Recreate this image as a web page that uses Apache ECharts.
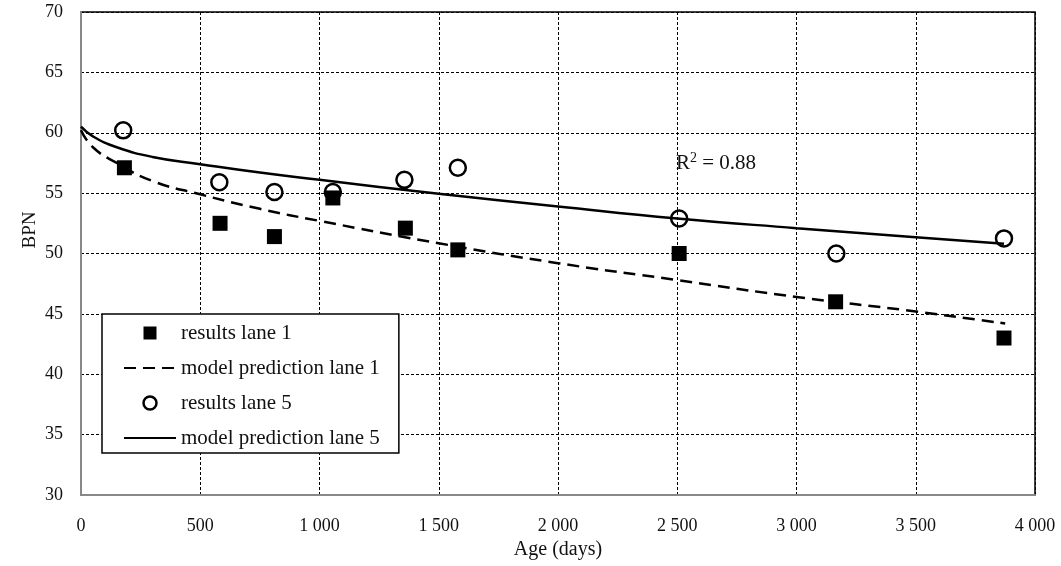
<!DOCTYPE html>
<html>
<head>
<meta charset="utf-8">
<script src="https://cdn.jsdelivr.net/npm/echarts@6/dist/echarts.min.js"></script>
<style>
  html, body { margin: 0; padding: 0; background: #fff; }
  #chart { width: 1061px; height: 566px; }
</style>
</head>
<body>
<div id="chart"></div>
<script>
// measured points, [age (days), BPN]
const resultsLane1 = [
  [182, 57.1], [583, 52.5], [811, 51.4], [1056, 54.6], [1360, 52.1],
  [1580, 50.3], [2508, 50.0], [3164, 46.0], [3870, 43.0]
]
const resultsLane5 = [
  [177, 60.2], [580, 55.9], [811, 55.1], [1056, 55.1], [1356, 56.1],
  [1580, 57.1], [2508, 52.9], [3167, 50.0], [3870, 51.25]
]
// model curves
const modelLane1 = [
  [0, 60.2], [50, 58.8], [150, 57.5], [300, 56.0], [500, 54.9], [750, 53.7],
  [1000, 52.7], [1500, 50.85], [2000, 49.2], [2500, 47.8], [3000, 46.4],
  [3500, 45.2], [3875, 44.2]
]
const modelLane5 = [
  [0, 60.5], [50, 59.7], [150, 58.8], [300, 58.0], [500, 57.4], [750, 56.7],
  [1000, 56.1], [1500, 54.95], [2000, 53.9], [2500, 52.9], [3000, 52.1],
  [3500, 51.35], [3870, 50.8]
]
const seriesNames = ['results lane 1', 'model prediction lane 1', 'results lane 5', 'model prediction lane 5']

const font = 'Liberation Serif, Times New Roman, serif'
const chart = echarts.init(document.getElementById('chart'))

chart.setOption({
  animation: false,
  textStyle: { fontFamily: font, color: '#111' },
  grid: {
    left: 81,
    top: 12,
    right: 26,
    bottom: 71,
    show: true,
    borderColor: '#000',
    borderWidth: 1.5
  },
  xAxis: {
    type: 'value',
    min: 0,
    max: 4000,
    interval: 500,
    name: 'Age (days)',
    nameLocation: 'middle',
    nameGap: 45,
    nameTextStyle: { fontFamily: font, fontSize: 20, color: '#111' },
    axisLine: { show: true, lineStyle: { color: '#888', width: 2 } },
    axisTick: { show: false },
    axisLabel: {
      margin: 22,
      fontSize: 18,
      fontFamily: font,
      color: '#111',
      formatter: v => String(v).replace(/\B(?=(\d{3})+(?!\d))/g, ' ')
    },
    splitLine: { show: true, lineStyle: { color: '#000', type: [3, 2], width: 1 } }
  },
  yAxis: {
    type: 'value',
    min: 30,
    max: 70,
    interval: 5,
    axisLine: { show: true, lineStyle: { color: '#888', width: 2 } },
    axisTick: { show: false },
    axisLabel: { margin: 18, fontSize: 18, fontFamily: font, color: '#111' },
    splitLine: { show: true, lineStyle: { color: '#000', type: [3, 2], width: 1 } }
  },
  legend: {
    orient: 'vertical',
    left: 102,
    top: 314,
    padding: [8, 19, 4, 21],
    itemGap: 13,
    itemWidth: 52,
    itemHeight: 13,
    backgroundColor: '#fff',
    borderColor: '#000',
    borderWidth: 1.5,
    textStyle: { fontFamily: font, fontSize: 21, color: '#111', lineHeight: 22 },
    data: [
      { name: seriesNames[0], icon: 'path://M0,0H10V10H0Z', itemStyle: { opacity: 1 } },
      { name: seriesNames[1], itemStyle: { opacity: 0 } },
      { name: seriesNames[2], itemStyle: { borderWidth: 2.5, opacity: 1 } },
      { name: seriesNames[3], itemStyle: { opacity: 0 } }
    ]
  },
  graphic: [
    {
      type: 'text',
      x: 30,
      y: 230,
      rotation: Math.PI / 2,
      style: {
        text: 'BPN',
        fontFamily: font,
        fontSize: 19,
        fill: '#111',
        textAlign: 'center',
        textVerticalAlign: 'middle'
      }
    },
    {
      type: 'text',
      x: 676,
      y: 163,
      style: {
        text: '{a|R}{b|2}{a| = 0.88}',
        fill: '#111',
        textAlign: 'left',
        textVerticalAlign: 'middle',
        rich: {
          a: { fontFamily: font, fontSize: 21, lineHeight: 24, fill: '#111' },
          b: { fontFamily: font, fontSize: 14, lineHeight: 24, fill: '#111', verticalAlign: 'top', padding: [0, 0, 6, 0] }
        }
      }
    }
  ],
  series: [
    {
      name: seriesNames[0],
      type: 'scatter',
      symbol: 'rect',
      symbolSize: 15,
      itemStyle: { color: '#000', opacity: 1 },
      z: 3,
      data: resultsLane1
    },
    {
      name: seriesNames[1],
      type: 'line',
      symbol: 'none',
      smooth: true,
      lineStyle: { color: '#000', width: 2.5, type: [12, 7] },
      itemStyle: { color: '#000' },
      z: 2,
      data: modelLane1
    },
    {
      name: seriesNames[2],
      type: 'scatter',
      symbol: 'circle',
      symbolSize: 16,
      itemStyle: { color: 'rgba(255,255,255,0)', borderColor: '#000', borderWidth: 2.5, opacity: 1 },
      z: 4,
      data: resultsLane5
    },
    {
      name: seriesNames[3],
      type: 'line',
      symbol: 'none',
      smooth: true,
      lineStyle: { color: '#000', width: 2.5 },
      itemStyle: { color: '#000' },
      z: 2,
      data: modelLane5
    }
  ]
})
</script>
</body>
</html>
